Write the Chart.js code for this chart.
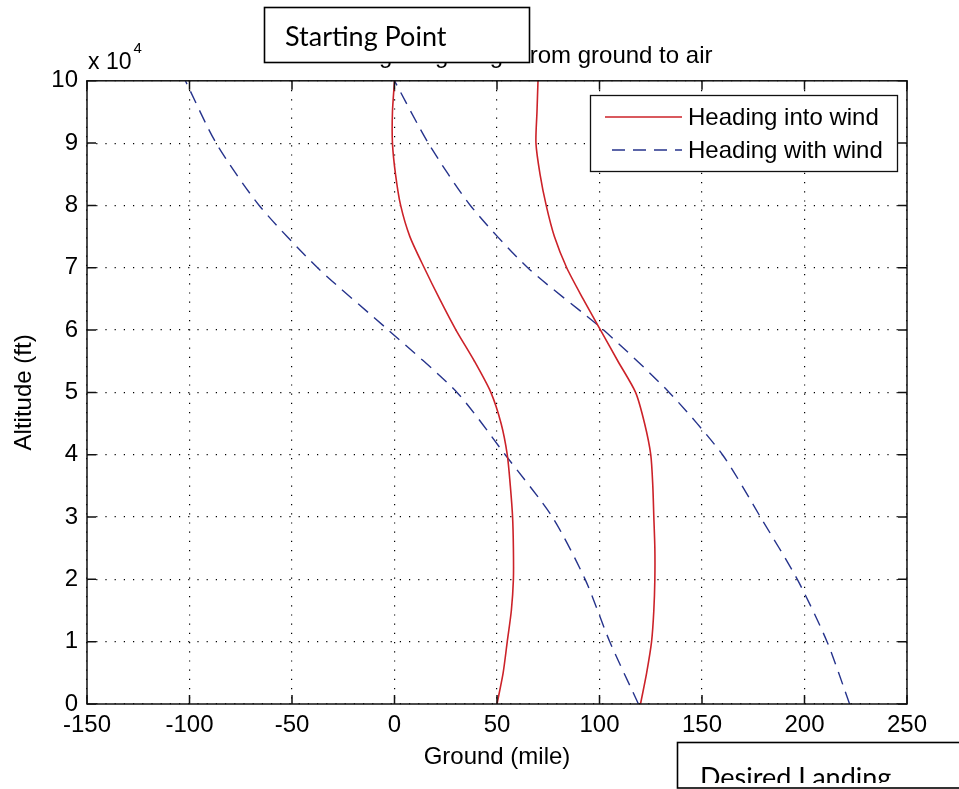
<!DOCTYPE html>
<html lang="en">
<head>
<meta charset="UTF-8">
<title>Gliding range from ground to air</title>
<script src="https://cdn.jsdelivr.net/npm/chart.js"></script>
<style>
  body { margin: 0; background: #fff; }
  #wrap { position: relative; width: 959px; height: 789px; }
</style>
</head>
<body>
<div id="wrap"><canvas id="glide" width="959" height="789"></canvas></div>
<script>
// altitude levels (ft) for the "into wind" runs, every 5000 ft
const altitudeFt = [0, 5000, 10000, 15000, 20000, 25000, 30000, 35000, 40000, 45000,
                    50000, 55000, 60000, 65000, 70000, 75000, 80000, 85000, 90000, 95000, 100000];
// ground distance (mile) heading into the wind
const intoWindNear = [50, 53, 55, 57, 58, 58, 57.6, 56.5, 55, 52,
                      47, 39, 30, 22, 14.5, 7.5, 3, 0.5, -1, -1, 0];
const intoWindFar  = [120, 123, 125.4, 126.5, 127, 127, 126.5, 126, 125, 122,
                      117.6, 109, 100.5, 92, 84, 78, 74, 71, 69, 69.5, 70];

// altitude levels (ft) for the "with wind" runs, every 10000 ft
const altitudeCoarseFt = [0, 10000, 20000, 30000, 40000, 50000, 60000, 70000, 80000, 90000, 100000];
const withWindNear = [119, 105, 93, 77, 54, 30.5, -3, -37.5, -66, -87, -102];
const withWindFar  = [222, 211, 196.5, 178.5, 160, 134, 102, 65, 37, 16.5, 0];

const xTicks = [-150, -100, -50, 0, 50, 100, 150, 200, 250];
const yTicks = [0, 10000, 20000, 30000, 40000, 50000, 60000, 70000, 80000, 90000, 100000];
const seriesNames = ['Heading into wind', 'Heading with wind'];

const RED = '#cc2229';
const BLUE = '#26338c';
const DASH = [13, 8];
const FONT = { family: '"Liberation Sans", Arial, sans-serif', size: 24 };

function pairUp(xs, ys) {
    return xs.map((x, i) => ({ x: x, y: ys[i] }));
}

// MATLAB-ish frame: box around the axes, inward ticks, exponent, legend and the two note boxes
const decorations = {
    id: 'decorations',
    afterDraw(chart) {
        const ctx = chart.ctx;
        const a = chart.chartArea;
        const xs = chart.scales.x, ys = chart.scales.y;
        ctx.save();

        ctx.strokeStyle = '#111';
        ctx.lineWidth = 1.5;
        ctx.strokeRect(a.left, a.top, a.right - a.left, a.bottom - a.top);

        const tl = 9;
        ctx.beginPath();
        xTicks.forEach(v => {
            const px = xs.getPixelForValue(v);
            ctx.moveTo(px, a.bottom); ctx.lineTo(px, a.bottom - tl);
            ctx.moveTo(px, a.top); ctx.lineTo(px, a.top + tl);
        });
        yTicks.forEach(v => {
            const py = ys.getPixelForValue(v);
            ctx.moveTo(a.left, py); ctx.lineTo(a.left + tl, py);
            ctx.moveTo(a.right, py); ctx.lineTo(a.right - tl, py);
        });
        ctx.stroke();

        // "x 10^4" above the y axis
        ctx.fillStyle = '#000';
        ctx.textBaseline = 'alphabetic';
        ctx.textAlign = 'left';
        ctx.font = '23px ' + FONT.family;
        ctx.fillText('x 10', a.left + 1, 69);
        const w = ctx.measureText('x 10').width;
        ctx.font = '15px ' + FONT.family;
        ctx.fillText('4', a.left + 1 + w + 2, 53);

        // legend
        const lx = 590, ly = 95, lw = 307, lh = 76;
        ctx.fillStyle = '#fff';
        ctx.fillRect(lx, ly, lw, lh);
        ctx.strokeStyle = '#111';
        ctx.lineWidth = 1.3;
        ctx.strokeRect(lx + 0.5, ly + 0.5, lw, lh);
        const rows = [
            { name: seriesNames[0], ds: chart.data.datasets[0], y: 117 },
            { name: seriesNames[1], ds: chart.data.datasets[2], y: 150 }
        ];
        rows.forEach(r => {
            ctx.beginPath();
            ctx.strokeStyle = r.ds.borderColor;
            ctx.lineWidth = r.ds.borderWidth;
            ctx.setLineDash(r.ds.borderDash || []);
            ctx.lineDashOffset = r.ds.borderDash ? 14 : 0;
            ctx.moveTo(605, r.y); ctx.lineTo(682, r.y);
            ctx.stroke();
            ctx.setLineDash([]);
            ctx.fillStyle = '#000';
            ctx.font = FONT.size + 'px ' + FONT.family;
            ctx.textBaseline = 'middle';
            ctx.fillText(r.name, 688, r.y + 1);
        });

        // note boxes laid over the figure
        const note = (x, y, bw, bh, text, tx, ty, clipBottom) => {
            ctx.fillStyle = '#fff';
            ctx.fillRect(x, y, bw, bh);
            ctx.strokeStyle = '#000';
            ctx.lineWidth = 1.6;
            ctx.strokeRect(x, y, bw, bh);
            ctx.save();
            ctx.beginPath();
            ctx.rect(x, y, bw, clipBottom - y);
            ctx.clip();
            ctx.fillStyle = '#000';
            ctx.font = '27px Lato, "Open Sans", sans-serif';
            ctx.textBaseline = 'alphabetic';
            ctx.textAlign = 'left';
            ctx.fillText(text, tx, ty);
            ctx.restore();
        };
        note(264.5, 7.5, 265, 55, 'Starting Point', 285, 46, 62);
        note(677.5, 742.5, 300, 45.5, 'Desired Landing', 700, 786.5, 783);

        ctx.restore();
    }
};

new Chart(document.getElementById('glide'), {
    type: 'scatter',
    data: {
        datasets: [
            { label: seriesNames[0], data: pairUp(intoWindNear, altitudeFt),
              borderColor: RED, borderWidth: 1.6 },
            { label: seriesNames[0], data: pairUp(intoWindFar, altitudeFt),
              borderColor: RED, borderWidth: 1.6 },
            { label: seriesNames[1], data: pairUp(withWindNear, altitudeCoarseFt),
              borderColor: BLUE, borderWidth: 1.4, borderDash: DASH },
            { label: seriesNames[1], data: pairUp(withWindFar, altitudeCoarseFt),
              borderColor: BLUE, borderWidth: 1.4, borderDash: DASH }
        ].map(d => Object.assign(d, { showLine: true, pointRadius: 0, tension: 0.25, fill: false }))
    },
    options: {
        responsive: false,
        animation: false,
        layout: { padding: { top: 0, right: 52, bottom: 0, left: 0 } },
        plugins: {
            legend: { display: false },
            tooltip: { enabled: false },
            title: {
                display: true,
                fullSize: false,
                text: 'Possible gliding range from ground to air',
                color: '#000',
                font: { family: FONT.family, size: 24, weight: 'normal' },
                padding: { top: 42, bottom: 10 }
            }
        },
        scales: {
            x: {
                type: 'linear',
                min: -150,
                max: 250,
                afterBuildTicks: s => { s.ticks = xTicks.map(v => ({ value: v })); },
                afterFit: s => { s.height = 85; },
                ticks: { color: '#000', font: FONT, padding: 7, maxRotation: 0 },
                grid: { color: '#000', lineWidth: 1.2, drawTicks: false },
                border: { display: false, dash: [1.2, 8] },
                title: { display: true, text: 'Ground (mile)', color: '#000', font: FONT,
                         padding: { top: 0, bottom: 17 } }
            },
            y: {
                type: 'linear',
                min: 0,
                max: 100000,
                afterBuildTicks: s => { s.ticks = yTicks.map(v => ({ value: v })); },
                afterFit: s => { s.width = 87; },
                ticks: { color: '#000', font: FONT, padding: 9, callback: v => v / 10000 },
                grid: { color: '#000', lineWidth: 1.2, drawTicks: false },
                border: { display: false, dash: [1.2, 8] },
                title: { display: true, text: 'Altitude (ft)', color: '#000', font: FONT,
                         padding: { top: 10, bottom: 0 } }
            }
        }
    },
    plugins: [decorations]
});
</script>
</body>
</html>
